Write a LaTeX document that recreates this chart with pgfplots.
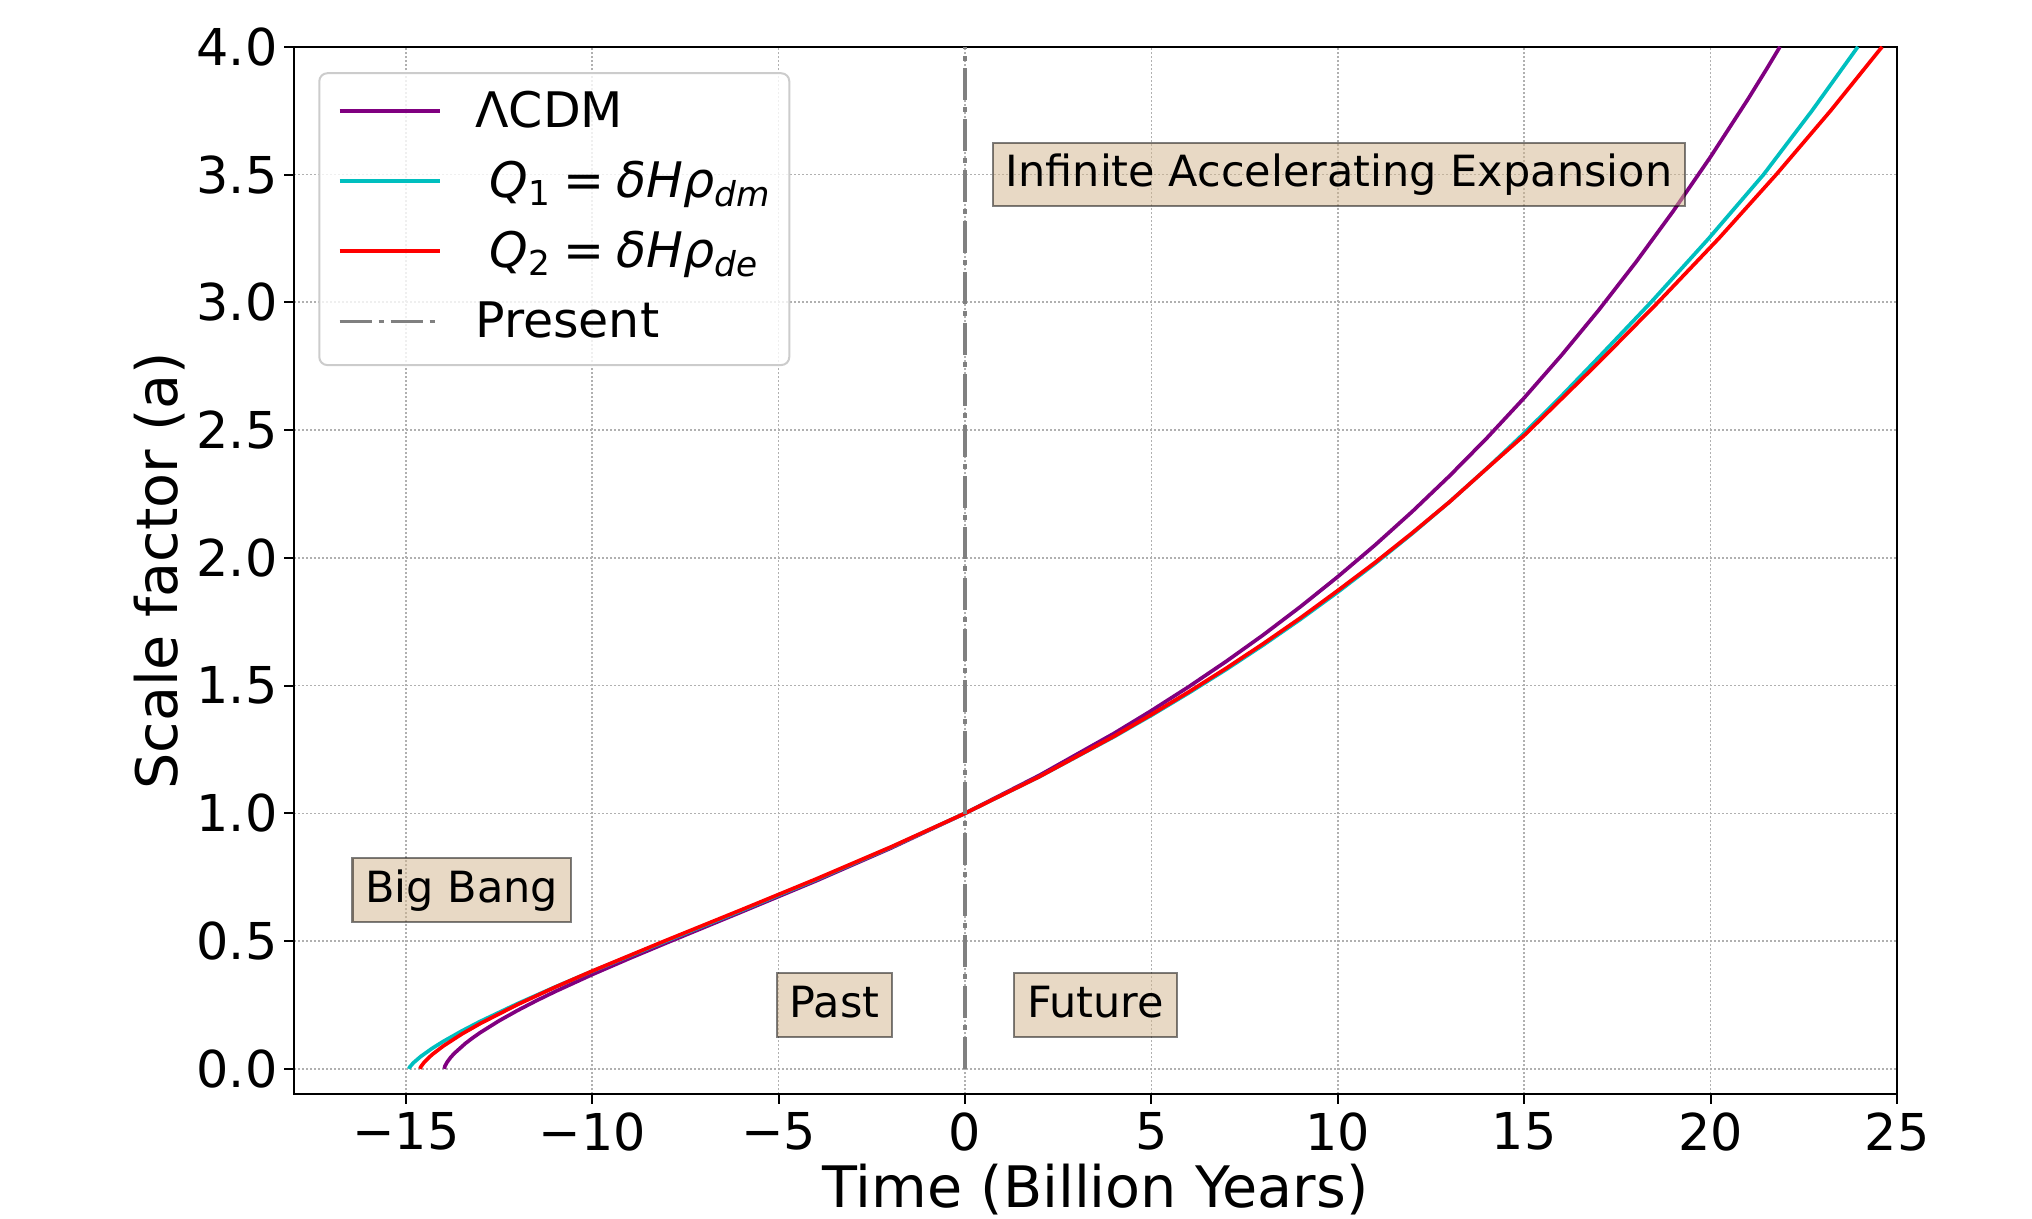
\documentclass[border=0pt]{standalone}
\usepackage{fontspec}
\setmainfont{DejaVu Sans}[ItalicFont={DejaVu Sans Oblique}]
\usepackage{pgfplots}
\pgfplotsset{compat=1.18}

\definecolor{lcdm}{HTML}{800080}
\definecolor{qdm}{HTML}{00BFBF}
\definecolor{qde}{HTML}{FF0000}
\definecolor{present}{HTML}{808080}
\definecolor{gridgray}{HTML}{B0B0B0}
\definecolor{boxtan}{RGB}{210,180,140}

% annotation boxes
\tikzset{ann/.style={draw=black, draw opacity=0.5, fill=boxtan, fill opacity=0.5,
    text opacity=1, line width=1.1pt, inner xsep=6.45pt, inner ysep=6.4pt,
    text height=15.6pt, text depth=3.25pt,
    font=\fontsize{21.5}{26}\selectfont}}

\begin{document}
\begin{tikzpicture}
\path[use as bounding box] (0,0) rectangle (1016pt,609.5pt);
\begin{axis}[
  at={(147pt,62.3pt)}, anchor=south west,
  scale only axis, width=801.5pt, height=523.8pt,
  xmin=-18, xmax=25, ymin=-0.1, ymax=4,
  xtick={-15,-10,-5,0,5,10,15,20,25},
  xticklabels={−15,−10,−5,0,5,10,15,20,25},
  ytick={0,0.5,1,1.5,2,2.5,3,3.5,4},
  yticklabels={0.0,0.5,1.0,1.5,2.0,2.5,3.0,3.5,4.0},
  tick align=outside, tick pos=left, major tick length=4.8pt,
  every tick/.style={black, line width=1pt},
  axis line style={line width=1pt},
  grid=major,
  grid style={gridgray, line width=0.8pt, dash pattern=on 1pt off 1pt},
  tick label style={font=\fontsize{25.4}{30}\selectfont},
  xticklabel style={inner sep=0pt, anchor=north, yshift=-4pt},
  yticklabel style={inner sep=0pt, anchor=east, xshift=-3.3pt},
  xlabel={Time (Billion Years)},
  ylabel={Scale factor (a)},
  label style={font=\fontsize{28.6}{34}\selectfont},
  xlabel style={at={(axis description cs:0.5,-0.1084)}, anchor=base},
  ylabel style={at={(axis description cs:-0.0726,0.5)}, anchor=base},
  legend cell align=left,
  legend image code/.code={\draw[#1] (0pt,1.45pt) -- (50pt,1.45pt);},
  legend style={at={(0.01516,0.9757)}, anchor=north west,
    draw=black!20, line width=1pt, rounded corners=4pt,
    fill=white, fill opacity=0.8, text opacity=1,
    inner xsep=9.2pt, inner ysep=7.7pt, row sep=9.5pt, column sep=17pt,
    font=\fontsize{24.5}{29}\selectfont,
    nodes={inner sep=0pt, text height=19.5pt, text depth=6pt}},
]

% Lambda-CDM
\addplot[lcdm, line width=1.85pt] table {
x a
-13.97 0
-13.95 0.0107
-13.90 0.0246
-13.80 0.0445
-13.70 0.0606
-13.40 0.0998
-13.20 0.1219
-13.00 0.1423
-12.50 0.1880
-12.00 0.2288
-11.50 0.2666
-11.00 0.3022
-10.00 0.3691
-9.00 0.4323
-8.00 0.4934
-6.00 0.6138
-4.00 0.7354
-2.00 0.8631
0.00 1.0000
2.00 1.1491
4.00 1.3132
5.00 1.4019
6.00 1.4953
7.00 1.5941
8.00 1.6983
9.00 1.8090
10.00 1.9261
11.00 2.0500
12.00 2.1815
13.00 2.3210
14.00 2.4690
15.00 2.6261
16.00 2.7928
17.00 2.9698
18.00 3.1578
19.00 3.3575
20.00 3.5697
21.00 3.7946
21.50 3.9126
21.86 4.0000
};
\addlegendentry{ΛCDM}

% interaction Q1 = delta H rho_dm
\addplot[qdm, line width=1.85pt] table {
x a
-14.92 0
-14.90 0.0061
-14.80 0.0232
-14.60 0.0484
-14.30 0.0795
-14.00 0.1069
-13.50 0.1481
-13.00 0.1860
-12.00 0.2555
-11.00 0.3201
-10.00 0.3820
-8.00 0.5012
-6.00 0.6195
-4.00 0.7402
-2.00 0.8662
0.00 1.0000
2.00 1.1438
4.00 1.3000
5.00 1.3835
6.00 1.4709
7.00 1.5624
8.00 1.6586
9.00 1.7596
10.00 1.8659
11.00 1.9777
12.00 2.0954
13.00 2.2194
14.00 2.3502
15.00 2.4881
16.00 2.6336
17.00 2.7850
18.40 3.0000
19.95 3.2500
21.42 3.5000
22.72 3.7500
23.95 4.0000
};
\addlegendentry{\hspace{7.2pt}\textit{Q}\textsubscript{1}\hspace{0.25em}=\hspace{0.25em}\textit{δHρ}\textsubscript{\textit{dm}}}

% interaction Q2 = delta H rho_de
\addplot[qde, line width=1.85pt] table {
x a
-14.62 0
-14.60 0.0075
-14.50 0.0272
-14.30 0.0552
-14.00 0.0888
-13.50 0.1361
-13.00 0.1777
-12.00 0.2519
-11.00 0.3193
-10.00 0.3828
-8.00 0.5039
-6.00 0.6224
-4.00 0.7426
-2.00 0.8676
0.00 1.0000
2.00 1.1440
4.00 1.3020
5.00 1.3867
6.00 1.4750
7.00 1.5672
8.00 1.6640
9.00 1.7651
10.00 1.8720
11.00 1.9818
12.00 2.0980
13.00 2.2192
14.00 2.3500
15.00 2.4791
16.00 2.6220
17.00 2.7650
18.59 3.0000
20.22 3.2500
21.76 3.5000
23.22 3.7500
24.60 4.0000
};
\addlegendentry{\hspace{7.2pt}\textit{Q}\textsubscript{2}\hspace{0.25em}=\hspace{0.25em}\textit{δHρ}\textsubscript{\textit{de}}}

% today
\addplot[present, line width=1.7pt, dash pattern=on 16pt off 3.5pt on 2.5pt off 3.5pt]
  coordinates {(0,0) (0,4)};
\addlegendentry{Present}

\node[ann] at (axis cs:-13.5,0.70) {Big Bang};
\node[ann] at (axis cs:-3.5,0.25) {Past};
\node[ann] at (axis cs:3.5,0.25) {Future};
\node[ann] at (axis cs:10.03,3.5) {Infinite Accelerating Expansion};
\end{axis}
\end{tikzpicture}
\end{document}
